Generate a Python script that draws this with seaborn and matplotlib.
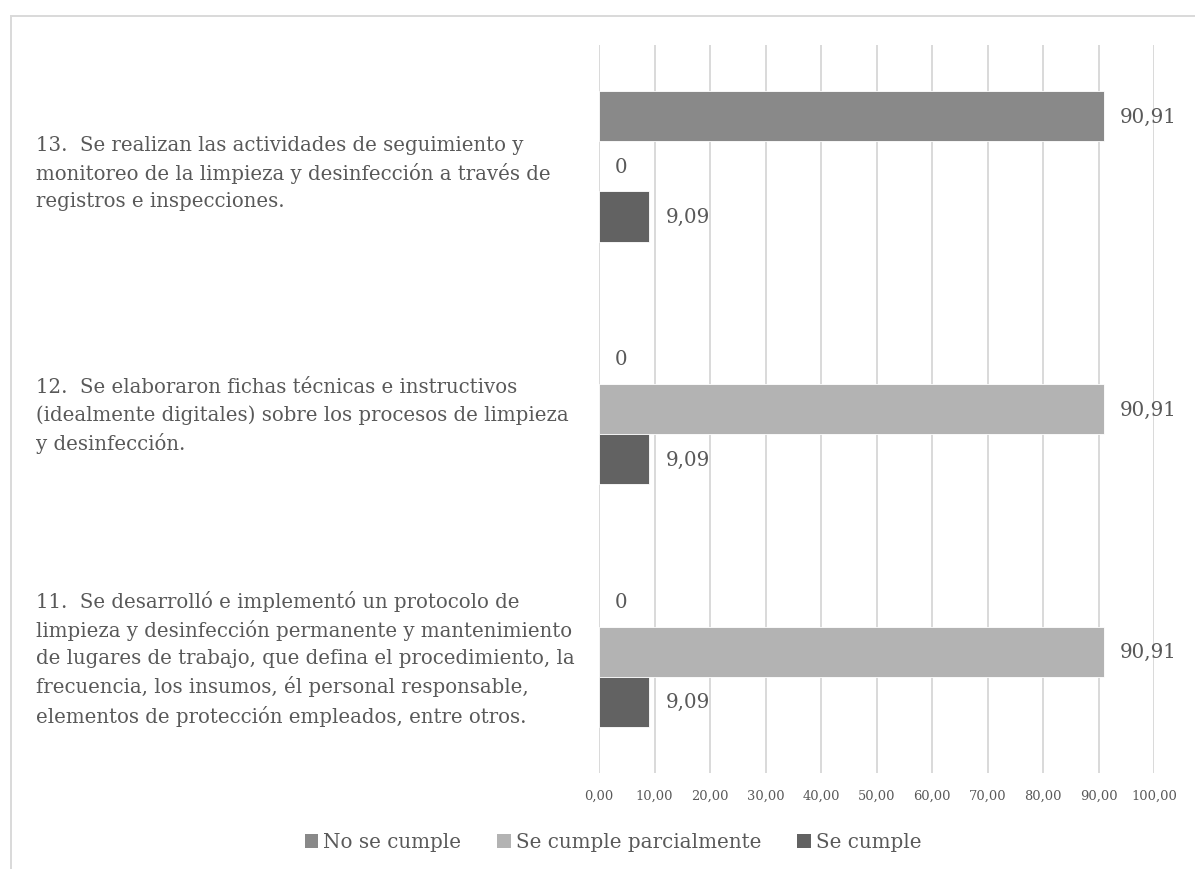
import matplotlib
matplotlib.use("Agg")
import matplotlib.pyplot as plt
from matplotlib.patches import Rectangle
from matplotlib.ticker import FuncFormatter, MultipleLocator
import seaborn as sns
import pandas as pd

# data
preguntas = [
    "13.  Se realizan las actividades de seguimiento y\n"
    "monitoreo de la limpieza y desinfección a través de\n"
    "registros e inspecciones.",
    "12.  Se elaboraron fichas técnicas e instructivos\n"
    "(idealmente digitales) sobre los procesos de limpieza\n"
    "y desinfección.",
    "11.  Se desarrolló e implementó un protocolo de\n"
    "limpieza y desinfección permanente y mantenimiento\n"
    "de lugares de trabajo, que defina el procedimiento, la\n"
    "frecuencia, los insumos, él personal responsable,\n"
    "elementos de protección empleados, entre otros.",
]
series = ["No se cumple", "Se cumple parcialmente", "Se cumple"]
no_se_cumple = [90.91, 0, 0]
parcialmente = [0, 90.91, 90.91]
se_cumple = [9.09, 9.09, 9.09]
colores = ["#898989", "#b3b3b3", "#626262"]
x_ticks = [0, 10, 20, 30, 40, 50, 60, 70, 80, 90, 100]

rows = []
for nombre, valores in zip(series, [no_se_cumple, parcialmente, se_cumple]):
    for p, v in zip(preguntas, valores):
        rows.append({"pregunta": p, "serie": nombre, "valor": v})
df = pd.DataFrame(rows)

sns.set_theme(style="white")
plt.rcParams['font.family'] = ['DejaVu Serif']
gris = "#595959"

W, H = 1195, 870
fig = plt.figure(figsize=(W / 100, H / 100), dpi=100)
ax = fig.add_axes([599 / W, 1 - 774 / H, (1154 - 599) / W, (774 - 46) / H])

sns.barplot(data=df, y="pregunta", x="valor", hue="serie", order=preguntas,
            hue_order=series, palette=colores, orient="h", width=0.62,
            saturation=1, errorbar=None, edgecolor="white", linewidth=0.6,
            ax=ax)

# zero-length bars should not hide the gridline at 0
for bar in ax.patches:
    if bar.get_width() == 0:
        bar.set_linewidth(0)

def etiqueta(v):
    return "0" if v == 0 else f"{v:.2f}".replace(".", ",")

for cont in ax.containers:
    ax.bar_label(cont, fmt=etiqueta, padding=11.5, fontsize=14.3, color=gris)

ax.set_xlim(x_ticks[0], x_ticks[-1])
ax.xaxis.set_major_locator(MultipleLocator(10))
ax.xaxis.set_major_formatter(FuncFormatter(lambda v, p: f"{v:.2f}".replace(".", ",")))
ax.grid(axis="x", color="#d9d9d9", linewidth=1.4)
ax.set_axisbelow(True)
for s in ax.spines.values():
    s.set_visible(False)
ax.set_xlabel("")
ax.set_ylabel("")

ax.tick_params(axis="x", length=0, pad=11, labelsize=9.4, labelcolor=gris)
ax.tick_params(axis="y", length=0, pad=(599 - 36) * 0.72, labelsize=14.25, labelcolor=gris)
for t in ax.get_yticklabels():
    t.set_ha("left")
    t.set_multialignment("left")
    t.set_linespacing(1.5)

handles, labels = ax.get_legend_handles_labels()
ax.get_legend().remove()
fig.legend(handles, labels, loc="center", bbox_to_anchor=(613 / W, 1 - 843 / H),
           ncol=3, frameon=False, fontsize=14.3, labelcolor=gris,
           handlelength=0.7, handleheight=0.7, handletextpad=0.25,
           columnspacing=1.8)

# outer chart border (left and top visible in the reference)
fig.patches.append(Rectangle((11 / W, -0.1), 2, 1 - 16.5 / H + 0.1,
                             transform=fig.transFigure, fill=False,
                             edgecolor="#d9d9d9", linewidth=1.4))

fig.savefig("out.png", dpi=100)
